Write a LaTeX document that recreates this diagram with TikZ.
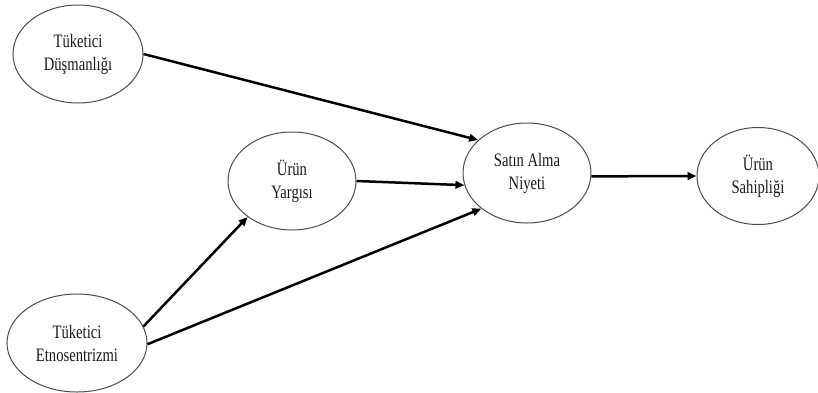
\documentclass[tikz,border=0pt]{standalone}
\usepackage{fontspec}
\setmainfont{Liberation Serif}[FakeStretch=0.77]
\usetikzlibrary{shapes.geometric,arrows.meta}
\begin{document}
\begin{tikzpicture}[x=1pt,y=-1pt,
  ell/.style={ellipse, draw=black!70, line width=1pt, inner sep=0pt,
    align=center, font=\fontsize{19}{23}\selectfont, text=black!90},
  conn/.style={line width=2.5pt, -{Triangle[length=9pt,width=7.5pt]}}]
\useasboundingbox (0,0) rectangle (818,392);
\node[ell, minimum width=130pt, minimum height=98pt] (td) at (78,54) {Tüketici\\Düşmanlığı};
\node[ell, minimum width=128pt, minimum height=98pt] (uy) at (292,181) {Ürün\\Yargısı};
\node[ell, minimum width=128pt, minimum height=100pt] (sa) at (527,173) {Satın Alma\\Niyeti};
\node[ell, minimum width=122pt, minimum height=97pt] (sh) at (758,176) {Ürün\\Sahipliği};
\node[ell, minimum width=140pt, minimum height=98pt] (te) at (77,343) {Tüketici\\Etnosentrizmi};
\draw[conn] (td.east) -- (sa.146);
\draw[conn] (uy.east) -- (sa.191);
\draw[conn] (te.14) -- (uy.219);
\draw[conn] (te.-1) -- (sa.218);
\draw[conn] (sa.-3) -- (sh.west);
\end{tikzpicture}
\end{document}
